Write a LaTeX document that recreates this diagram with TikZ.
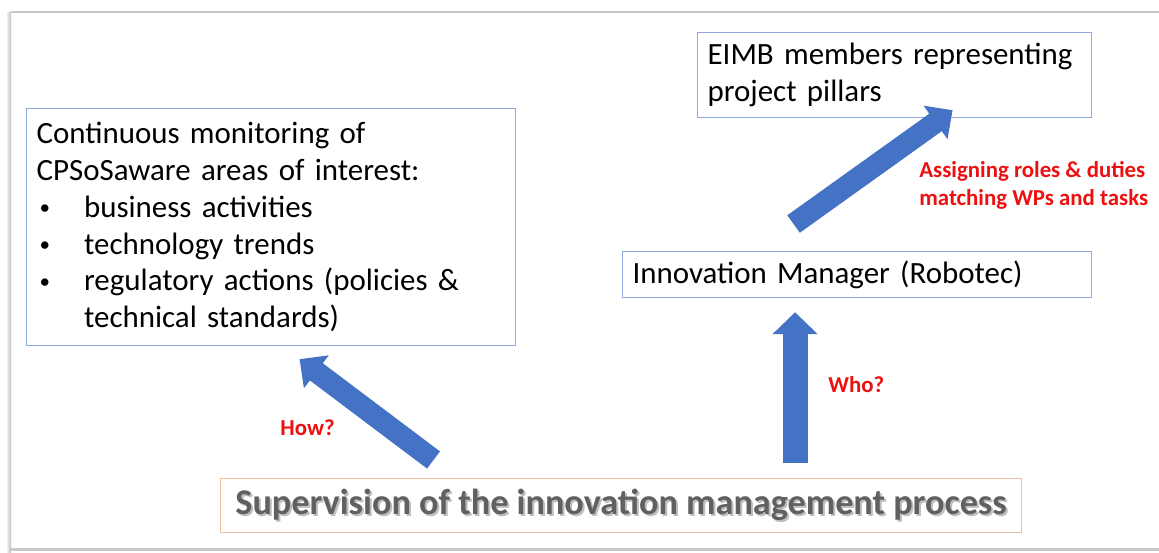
\documentclass[tikz,border=0pt]{standalone}
\usepackage{fontspec}
\setmainfont{Carlito}
\usepackage{tikz}
\usetikzlibrary{arrows.meta,calc}

\definecolor{boxline}{RGB}{143,170,220}
\definecolor{supline}{RGB}{240,190,155}
\definecolor{arrowblue}{RGB}{68,114,196}
\definecolor{qred}{RGB}{236,16,16}
\definecolor{suptext}{RGB}{96,96,96}
\definecolor{supshadow}{RGB}{190,190,190}
\definecolor{framegray}{RGB}{200,200,200}

\newcommand{\bul}{\makebox[0.95cm][l]{\hspace{0.06cm}\raisebox{0.05cm}{\fontsize{12}{12}\selectfont\textbullet}}}
\newcommand{\shadowed}[1]{\rlap{\hspace{0.04cm}\raisebox{-0.04cm}{\color{supshadow}#1}}#1}

\tikzset{
  infobox/.style={draw=boxline, line width=0.7pt, anchor=north west, align=left,
    inner xsep=0.2cm, inner ysep=0pt, font=\fontsize{17.6}{21}\selectfont},
  question/.style={text=qred, anchor=base west, align=left, inner sep=0pt,
    font=\bfseries\fontsize{13}{15.9}\selectfont},
  bigarrow/.style={draw=arrowblue, line width=0.5cm, -{Triangle[width=0.88cm,length=0.44cm]}},
  diagarrow/.style={draw=arrowblue, line width=0.43cm, -{Triangle[width=0.8cm,length=0.42cm]}}
}

\begin{document}
\begin{tikzpicture}[x=0.02cm, y=-0.02cm]
  \useasboundingbox (0,0) rectangle (1159,552);
  % page frame
  \fill[left color=gray!15, right color=gray!50] (7,12) rectangle (11,552);
  \draw[framegray, line width=1pt] (11,12) -- (1159,12);
  \fill[framegray] (11,548) rectangle (1159,551);

  % boxes
  \node[infobox, minimum width=9.78cm, minimum height=4.74cm, text width=9.38cm] (mon) at (26,108)
    {Continuous monitoring of\\
     CPSoSaware areas of interest:\\
     \bul business activities\\
     \bul technology trends\\
     \bul regulatory actions (policies \&\\
     \hspace*{0.95cm}technical standards)};
  \node[infobox, minimum width=7.88cm, minimum height=1.7cm, text width=7.48cm] (eimb) at (697,32)
    {EIMB members representing\\ project pillars};
  \node[infobox, minimum width=9.38cm, minimum height=0.92cm, text width=8.98cm] (im) at (622,251)
    {Innovation Manager (Robotec)};
  \node[draw=supline, line width=0.7pt, anchor=north west, minimum width=16.02cm, minimum height=1.08cm,
    inner sep=0pt, text=suptext, font=\bfseries\fontsize{20.6}{24}\selectfont] (sup) at (220,478)
    {\shadowed{Supervision of the innovation management process}};

  % arrows
  \draw[diagarrow] ($(sup.north)+(-187.5,-18)$) -- ($(mon.south)+(28.5,13)$);
  \draw[bigarrow] ($(sup.north -| im.south)+(-62,-15)$) -- ($(im.south)+(-62,14)$);
  \draw[diagarrow] ($(im.north)+(-63.5,-27)$) -- ($(eimb.south)+(58,-8)$);

  % labels
  \node[question] (how) at (280,435) {How?};
  \node[question] (who) at (828,392) {Who?};
  \node[question] (roles) at (919,205) {Assigning roles \& duties\\ matching WPs and tasks};
\end{tikzpicture}
\end{document}
